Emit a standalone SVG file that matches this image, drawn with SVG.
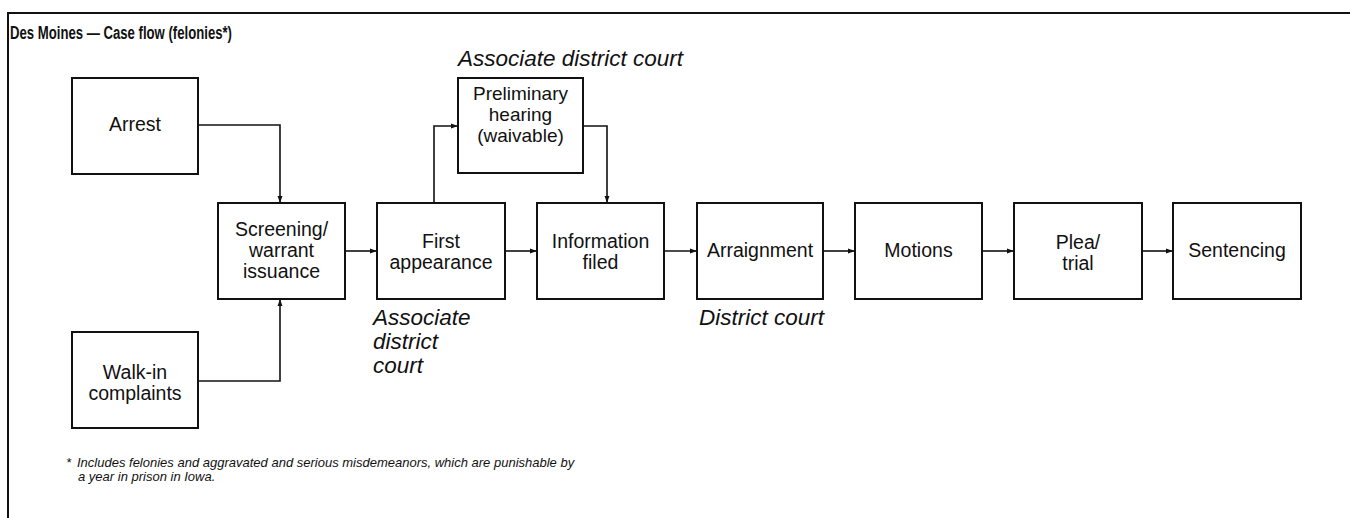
<svg xmlns="http://www.w3.org/2000/svg" width="1350" height="518" viewBox="0 0 1350 518">
<defs>
<marker id="ah" viewBox="0 0 10 10" refX="10" refY="5" markerWidth="9" markerHeight="7" markerUnits="userSpaceOnUse" orient="auto">
<path d="M0,1.5 L10,5 L0,8.5 Z" fill="#111"/>
</marker>
<style>
.box{fill:#fff;stroke:#111;stroke-width:2}
.t{font-family:"Liberation Sans",Arial,sans-serif;font-size:19.5px;fill:#111;text-anchor:middle}
.ts{font-family:"Liberation Sans",Arial,sans-serif;font-size:19px;fill:#111;text-anchor:middle}
.lab{font-family:"Liberation Sans",Arial,sans-serif;font-size:22.5px;font-style:italic;fill:#111}
.title{font-family:"Liberation Sans",Arial,sans-serif;font-size:17.5px;font-weight:bold;fill:#111}
.fn{font-family:"Liberation Sans",Arial,sans-serif;font-size:13px;font-style:italic;fill:#111}
.c{fill:none;stroke:#111;stroke-width:1.6;marker-end:url(#ah)}
.frame{fill:none;stroke:#111;stroke-width:2}
</style>
</defs>
<rect width="1350" height="518" fill="#fff"/>
<path class="frame" d="M8,518 V13 H1350"/>
<text class="title" x="10" y="39" textLength="222" lengthAdjust="spacingAndGlyphs">Des Moines — Case flow (felonies*)</text>

<g id="connectors">
<path class="c" d="M198,125 H280 V203"/>
<path class="c" d="M198,381 H280 V299"/>
<path class="c" d="M345,251 H377"/>
<path class="c" d="M434,203 V126 H458"/>
<path class="c" d="M583,126 H607 V203"/>
<path class="c" d="M505,251 H537"/>
<path class="c" d="M664,251 H697"/>
<path class="c" d="M823,251 H855"/>
<path class="c" d="M982,251 H1014"/>
<path class="c" d="M1142,251 H1173"/>
</g>

<g id="arrest"><rect class="box" x="72" y="78" width="126" height="96"/><text class="t" x="135" y="131">Arrest</text></g>
<g id="walkin"><rect class="box" x="72" y="332" width="126" height="96"/><text class="t" x="135" y="379">Walk-in</text><text class="t" x="135" y="400">complaints</text></g>
<g id="screening"><rect class="box" x="218" y="203" width="127" height="96"/><text class="t" x="281.5" y="236">Screening/</text><text class="t" x="281.5" y="257">warrant</text><text class="t" x="281.5" y="278">issuance</text></g>
<g id="first"><rect class="box" x="377" y="203" width="128" height="96"/><text class="t" x="441" y="248">First</text><text class="t" x="441" y="269">appearance</text></g>
<g id="prelim"><rect class="box" x="458" y="78" width="125" height="95"/><text class="ts" x="520.5" y="100">Preliminary</text><text class="ts" x="520.5" y="121">hearing</text><text class="ts" x="520.5" y="142">(waivable)</text></g>
<g id="info"><rect class="box" x="537" y="203" width="127" height="96"/><text class="t" x="600.5" y="248">Information</text><text class="t" x="600.5" y="269">filed</text></g>
<g id="arraignment"><rect class="box" x="697" y="203" width="126" height="96"/><text class="t" x="760" y="257">Arraignment</text></g>
<g id="motions"><rect class="box" x="855" y="203" width="127" height="96"/><text class="t" x="918.5" y="257">Motions</text></g>
<g id="plea"><rect class="box" x="1014" y="203" width="128" height="96"/><text class="t" x="1078" y="249">Plea/</text><text class="t" x="1078" y="270">trial</text></g>
<g id="sentencing"><rect class="box" x="1173" y="203" width="128" height="96"/><text class="t" x="1237" y="257">Sentencing</text></g>

<g id="labels">
<text class="lab" x="458" y="66">Associate district court</text>
<text class="lab" x="373" y="325">Associate</text>
<text class="lab" x="373" y="349">district</text>
<text class="lab" x="373" y="373">court</text>
<text class="lab" x="699" y="325">District court</text>
</g>

<g id="footnote">
<text class="fn" x="66" y="467">*</text>
<text class="fn" x="77" y="467">Includes felonies and aggravated and serious misdemeanors, which are punishable by</text>
<text class="fn" x="78" y="481">a year in prison in Iowa.</text>
</g>
</svg>
